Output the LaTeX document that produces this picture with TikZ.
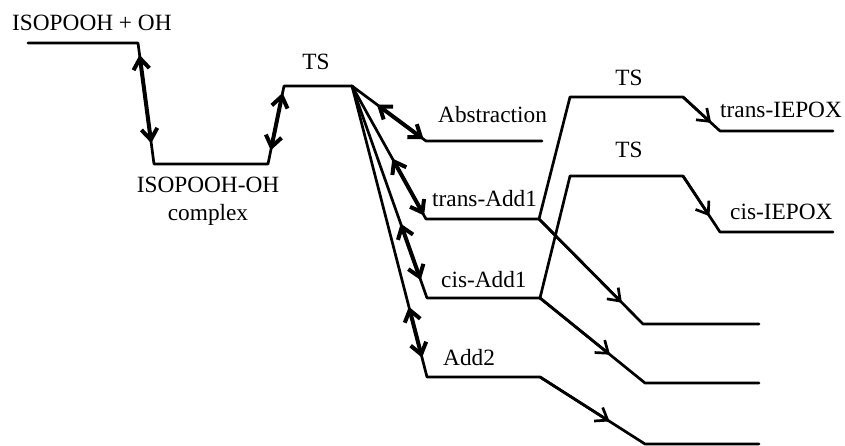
\documentclass[tikz,border=0pt]{standalone}
\usepackage{fontspec}
\setmainfont{Liberation Serif}
\usetikzlibrary{arrows.meta}

\begin{document}
\begin{tikzpicture}[x=1pt,y=-1pt,
	lvl/.style={line width=2.7pt,line cap=round,line join=round},
	dblarr/.style={line width=4pt,{Straight Barb[length=11pt,width=16pt]}-{Straight Barb[length=11pt,width=16pt]}},
	fwdarr/.style={line width=2.7pt,-{Straight Barb[length=11pt,width=16pt]}},
	lab/.style={inner sep=0pt,font=\fontsize{23.3}{28}\selectfont}]
	\useasboundingbox (0,0) rectangle (845,446);
	% energy levels: name/left x/right x/height
	\foreach \name/\xa/\xb/\y in {r0/28/138/43, c1/154/268/164, ts1/284/352/86,
		ab/426/542/141, ta/426/539/219, ca/427/540/298, a2/427/540/377,
		t2/570/683/97, tie/720/833/131, c2/570/683/176, cie/720/833/232,
		p1/643/759/324, p2/645/759/383, p3/645/759/444} {
		\coordinate (\name l) at (\xa,\y);
		\coordinate (\name r) at (\xb,\y);
	}
	% levels and connectors
	\draw[lvl] (r0l) -- (r0r) -- (c1l) -- (c1r) -- (ts1l) -- (ts1r) -- (abl) -- (abr);
	\draw[lvl] (ts1r) -- (tal) -- (tar) -- (t2l) -- (t2r) -- (tiel) -- (tier);
	\draw[lvl] (ts1r) -- (cal) -- (car) -- (c2l) -- (c2r) -- (ciel) -- (cier);
	\draw[lvl] (ts1r) -- (a2l) -- (a2r) -- (p3l) -- (p3r);
	\draw[lvl] (tar) -- (p1l) -- (p1r);
	\draw[lvl] (car) -- (p2l) -- (p2r);
	% reversible steps
	\draw[dblarr,shorten <=12pt,shorten >=21pt] (r0r) -- (c1l);
	\draw[dblarr,shorten <=14pt,shorten >=7pt] (c1r) -- (ts1l);
	\draw[dblarr,shorten <=31pt,shorten >=3pt] (ts1r) -- (abl);
	\draw[dblarr,shorten <=83pt,shorten >=4pt] (ts1r) -- (tal);
	\draw[dblarr,shorten <=146pt,shorten >=19pt] (ts1r) -- (cal);
	\draw[dblarr,shorten <=228pt,shorten >=20pt] (ts1r) -- (a2l);
	% forward steps
	\draw[fwdarr,shorten >=12pt] (t2r) -- (tiel);
	\draw[fwdarr,shorten >=19pt] (c2r) -- (ciel);
	\draw[fwdarr,shorten >=30pt] (tar) -- (p1l);
	\draw[fwdarr,shorten >=45pt] (car) -- (p2l);
	\draw[fwdarr,shorten >=42pt] (a2r) -- (p3l);
	% labels
	\node[lab,anchor=base west] (lreac) at (12,31) {ISOPOOH + OH};
	\node[lab,anchor=north,align=center] (lcomp) at (208,177) {ISOPOOH-OH\\complex};
	\node[lab,anchor=base] (lts1) at (316,70) {TS};
	\node[lab,anchor=base west] (labs) at (438,123) {Abstraction};
	\node[lab,anchor=base west] (ltrans) at (432,207) {trans-Add1};
	\node[lab,anchor=base west] (lcis) at (441,287) {cis-Add1};
	\node[lab,anchor=base west] (ladd2) at (443,365) {Add2};
	\node[lab,anchor=base] (lts2) at (629,86) {TS};
	\node[lab,anchor=base] (lts3) at (629,158) {TS};
	\node[lab,anchor=base west] (ltie) at (720,118) {trans-IEPOX};
	\node[lab,anchor=base west] (lcie) at (730,220) {cis-IEPOX};
\end{tikzpicture}
\end{document}
